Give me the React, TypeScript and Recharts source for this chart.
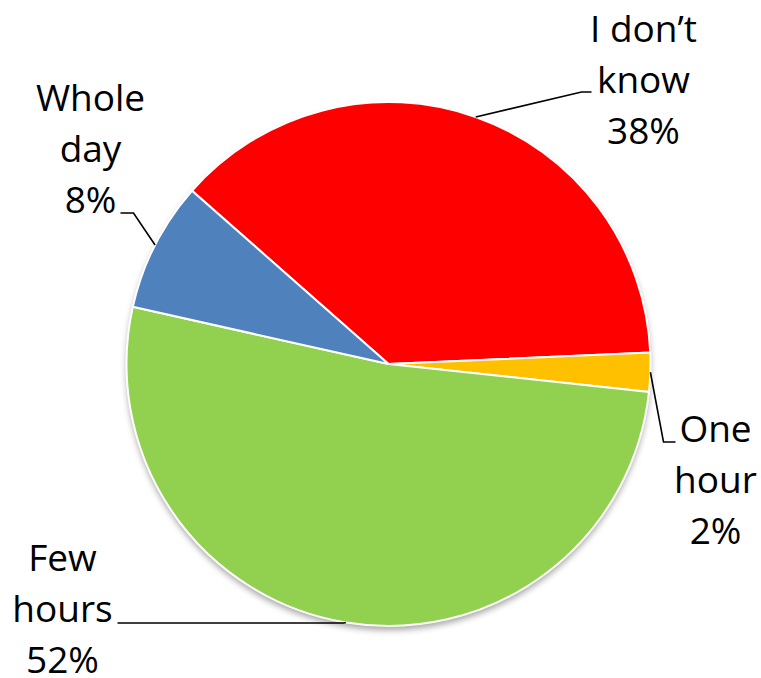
import { PieChart, Pie, Cell } from 'recharts'

const CATEGORIES = ['I don’t\nknow', 'One\nhour', 'Few\nhours', 'Whole\nday']
const SHARES = [37.8, 2.4, 51.8, 8.0]
const COLORS = ['#ff0000', '#ffc000', '#92d050', '#4f81bd']

const data = CATEGORIES.map((name, i) => ({ name, value: SHARES[i] }))

const W = 761
const H = 678
const CX = 388.5
const CY = 364
const R = 262
const START = 138.6

// label placement relative to pie centre: elbow of leader, end of leader, text centre / first baseline
const LABEL_LAYOUT = [
  { elbow: [193, -272], end: [203, -272], tx: 255, ty: -322 },
  { elbow: [275, 78], end: [287, 78], tx: 327, ty: 78 },
  { elbow: [-45, 259], end: [-271, 259], tx: -326, ty: 207 },
  { elbow: [-255, -151], end: [-268, -151], tx: -298, ty: -253 },
]

const FONT = '"Open Sans", sans-serif'

function renderLabel(props: any) {
  const { cx, cy, midAngle, outerRadius, index, percent, name } = props
  const rad = (Math.PI / 180) * midAngle
  const sx = cx + outerRadius * Math.cos(rad)
  const sy = cy - outerRadius * Math.sin(rad)
  const lay = LABEL_LAYOUT[index]
  const lines = [...String(name).split('\n'), `${Math.round(percent * 100)}%`]
  return (
    <g key={`lbl-${index}`}>
      <polyline
        points={`${sx},${sy} ${cx + lay.elbow[0]},${cy + lay.elbow[1]} ${cx + lay.end[0]},${cy + lay.end[1]}`}
        fill="none"
        stroke="#000"
        strokeWidth={1.6}
      />
      <text
        x={cx + lay.tx}
        y={cy + lay.ty}
        textAnchor="middle"
        fontFamily={FONT}
        fontSize={37}
        fill="#000"
      >
        {lines.map((l, i) => (
          <tspan key={i} x={cx + lay.tx} dy={i === 0 ? 0 : 51}>
            {l}
          </tspan>
        ))}
      </text>
    </g>
  )
}

export default function App() {
  return (
    <div style={{ position: 'absolute', left: 0, top: 0, width: W, height: H, background: '#fff' }}>
      <PieChart width={W} height={H} margin={{ top: 0, right: 0, bottom: 0, left: 0 }}>
        <defs>
          <filter id="pieShadow" x="-20%" y="-20%" width="140%" height="140%">
            <feGaussianBlur stdDeviation="3" />
          </filter>
        </defs>
        <Pie
          data={[{ name: 'shadow', value: 1 }]}
          dataKey="value"
          cx={CX}
          cy={CY + 4}
          outerRadius={R}
          startAngle={0}
          endAngle={360}
          stroke="none"
          fill="#000"
          fillOpacity={0.35}
          style={{ filter: 'url(#pieShadow)' }}
          isAnimationActive={false}
        />
        <Pie
          data={data}
          dataKey="value"
          nameKey="name"
          cx={CX}
          cy={CY}
          outerRadius={R}
          startAngle={START}
          endAngle={START - 360}
          stroke="#fff"
          strokeWidth={2}
          label={renderLabel}
          labelLine={false}
          isAnimationActive={false}
        >
          {data.map((_, i) => (
            <Cell key={i} fill={COLORS[i]} />
          ))}
        </Pie>
      </PieChart>
    </div>
  )
}
